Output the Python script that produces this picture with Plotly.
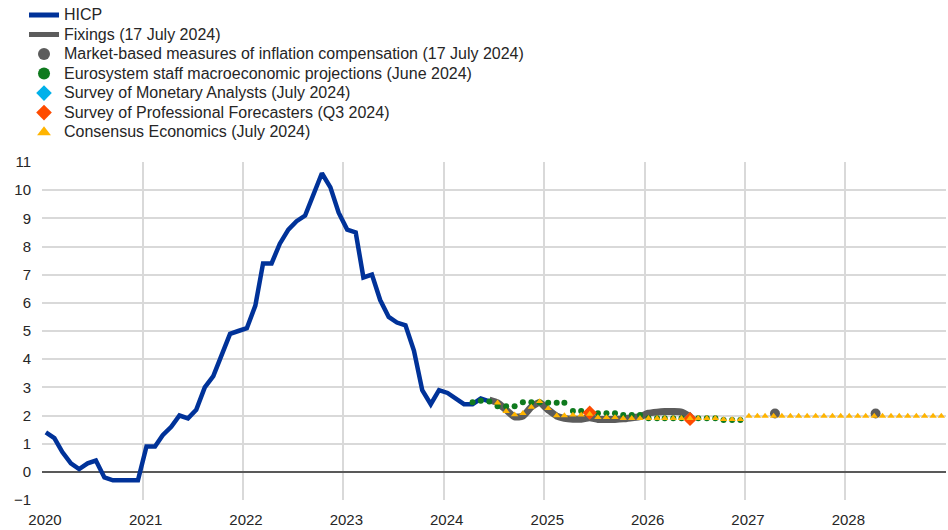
import pandas as pd
import plotly.graph_objects as go

# ---------------- data ----------------
hicp_start = "2020-01"
hicp_values = [
    1.4, 1.2, 0.7, 0.3, 0.1, 0.3, 0.4, -0.2, -0.3, -0.3, -0.3, -0.3,
    0.9, 0.9, 1.3, 1.6, 2.0, 1.9, 2.2, 3.0, 3.4, 4.1, 4.9, 5.0,
    5.1, 5.9, 7.4, 7.4, 8.1, 8.6, 8.9, 9.1, 9.9, 10.6, 10.1, 9.2,
    8.6, 8.5, 6.9, 7.0, 6.1, 5.5, 5.3, 5.2, 4.3, 2.9, 2.4, 2.9,
    2.8, 2.6, 2.4, 2.4, 2.6, 2.5,
]

fixings_start = "2024-06"
fixings_values = [
    2.55, 2.45, 2.2, 1.95, 1.98, 2.3, 2.45, 2.2, 1.98, 1.9, 1.87, 1.87,
    1.92, 1.86, 1.86, 1.86, 1.88, 1.92, 1.96, 2.08, 2.12, 2.14, 2.14, 2.12,
    1.96,
]

market_dates = ["2027-04-20", "2028-04-20"]
market_values = [2.07, 2.07]

ecb_start = "2024-04"
ecb_values = [
    2.47, 2.52, 2.5, 2.33, 2.33, 2.33, 2.47, 2.47, 2.47,
    2.45, 2.45, 2.45, 2.16, 2.16, 2.1, 2.08, 2.08, 2.08, 2.02, 2.02, 2.02,
    1.9, 1.9, 1.9, 1.9, 1.9, 1.9, 1.9, 1.9, 1.9, 1.84, 1.84, 1.84,
]

sma_dates = ["2025-06-15", "2026-06-15"]
sma_values = [2.1, 1.9]

spf_dates = ["2025-06-15", "2026-06-15"]
spf_values = [2.1, 1.88]

consensus_start = "2024-07"
consensus_values = [
    2.45, 2.15, 2.03, 2.08, 2.3, 2.5,
    2.25, 2.0, 2.0, 2.02, 2.02, 2.05, 1.93, 1.93, 1.93, 1.9, 1.9, 1.9,
    1.9, 1.9, 1.9, 1.9, 1.9, 1.9, 1.9, 1.9, 1.9, 1.86, 1.86, 1.86,
    1.98, 1.98, 1.98, 1.98, 1.98, 1.98, 1.98, 1.98, 1.98, 1.98, 1.98, 1.98,
    1.98, 1.98, 1.98, 1.98, 1.98, 1.98, 1.98, 1.98, 1.98, 1.98, 1.98, 1.98,
]

year_ticks = [str(y) for y in range(2020, 2029)]

series_names = [
    "HICP",
    "Fixings (17 July 2024)",
    "Market-based measures of inflation compensation (17 July 2024)",
    "Eurosystem staff macroeconomic projections (June 2024)",
    "Survey of Monetary Analysts (July 2024)",
    "Survey of Professional Forecasters (Q3 2024)",
    "Consensus Economics (July 2024)",
]


def mid_months(start, n):
    return pd.date_range(start=start, periods=n, freq="MS") + pd.Timedelta(days=14)


def legend_label(name):
    return '<span style="font-size:16px">' + name + "</span>"


FONT = "Liberation Sans, Arial, sans-serif"
TXT = "#262626"

fig = go.Figure()

fig.add_trace(go.Scatter(
    x=mid_months(hicp_start, len(hicp_values)), y=hicp_values,
    mode="lines", name=legend_label(series_names[0]),
    line=dict(color="#003299", width=4.5),
))
fig.add_trace(go.Scatter(
    x=mid_months(fixings_start, len(fixings_values)), y=fixings_values,
    mode="lines", name=legend_label(series_names[1]),
    line=dict(color="#5c5c5c", width=7, shape="spline", smoothing=0.6),
))
fig.add_trace(go.Scatter(
    x=pd.to_datetime(market_dates), y=market_values,
    mode="markers", name=legend_label(series_names[2]),
    marker=dict(color="#5c5c5c", size=10, symbol="circle"),
))
fig.add_trace(go.Scatter(
    x=mid_months(ecb_start, len(ecb_values)), y=ecb_values,
    mode="markers", name=legend_label(series_names[3]),
    marker=dict(color="#0f7a1e", size=6, symbol="circle"),
))
fig.add_trace(go.Scatter(
    x=pd.to_datetime(sma_dates), y=sma_values,
    mode="markers", name=legend_label(series_names[4]),
    marker=dict(color="#00b1ea", size=10, symbol="diamond"),
))
fig.add_trace(go.Scatter(
    x=pd.to_datetime(spf_dates), y=spf_values,
    mode="markers", name=legend_label(series_names[5]),
    marker=dict(color="#ff4b00", size=11, symbol="diamond"),
))
fig.add_trace(go.Scatter(
    x=mid_months(consensus_start, len(consensus_values)), y=consensus_values,
    mode="markers", name=legend_label(series_names[6]),
    marker=dict(color="#ffb400", size=6.5, symbol="triangle-up"),
))

fig.update_layout(
    width=948, height=530,
    margin=dict(l=42, r=2, t=161, b=30),
    paper_bgcolor="white", plot_bgcolor="white",
    font=dict(family=FONT, size=15, color=TXT),
    showlegend=True,
    legend=dict(
        x=-0.0199, y=1.474, xanchor="left", yanchor="top",
        font=dict(family=FONT, size=12.7, color=TXT),
        itemsizing="constant", tracegroupgap=0,
        bgcolor="rgba(0,0,0,0)", borderwidth=0,
    ),
)

fig.update_xaxes(
    type="date",
    range=["2020-01-01", "2029-01-01"],
    tickvals=pd.to_datetime([y + "-01-01" for y in year_ticks]),
    ticktext=year_ticks,
    showgrid=True, gridcolor="#d9d9d9", gridwidth=1.5,
    zeroline=False, showline=False, ticks="",
    ticklabelstandoff=9, ticklabelshift=3,
    automargin=False,
    tickfont=dict(family=FONT, size=15, color=TXT),
)
fig.update_yaxes(
    range=[-1, 11], dtick=1, tick0=0,
    showgrid=True, gridcolor="#d9d9d9", gridwidth=1.5,
    zeroline=True, zerolinecolor="#595959", zerolinewidth=2,
    showline=False, ticks="",
    ticklabelstandoff=10,
    automargin=False,
    tickfont=dict(family=FONT, size=15, color=TXT),
)

fig.write_html(
    "out.html",
    config={"displayModeBar": False},
    post_script="document.body.style.margin='0px';document.body.style.overflow='hidden';",
)
